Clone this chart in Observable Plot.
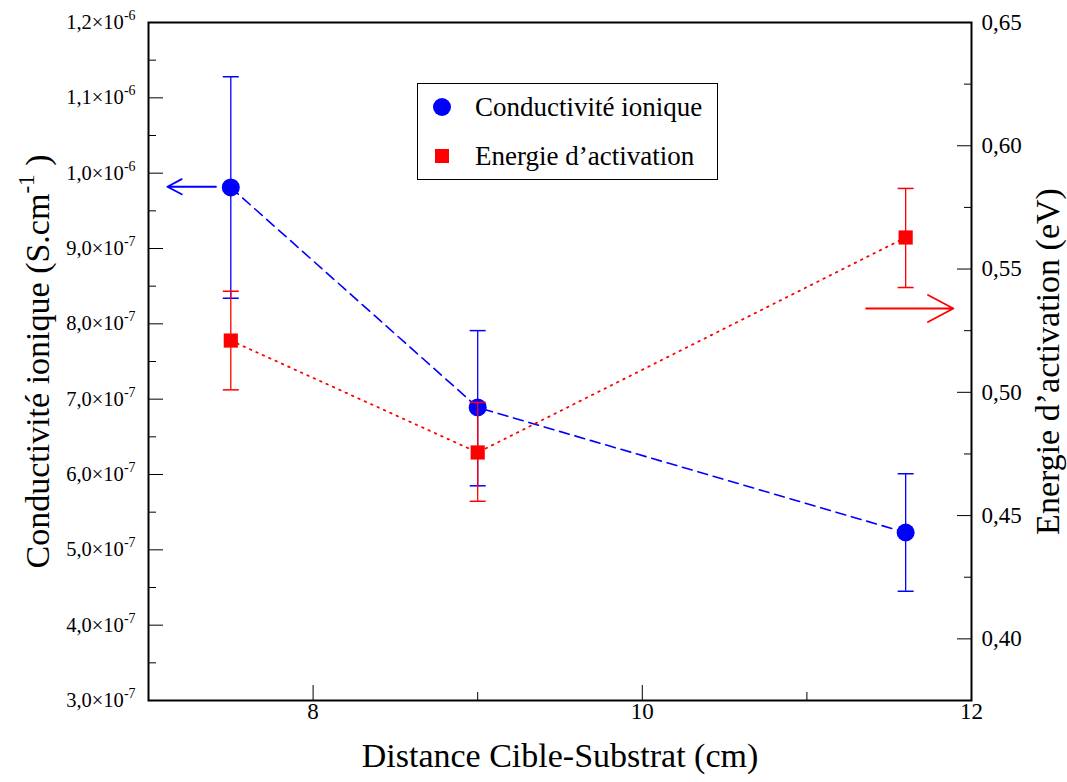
<!DOCTYPE html>
<html>
<head>
<meta charset="utf-8">
<script src="https://cdn.jsdelivr.net/npm/d3@7"></script>
<script src="https://cdn.jsdelivr.net/npm/@observablehq/plot@0.6"></script>
<style>
  body { margin: 0; background: #fff; }
  #wrap { position: relative; width: 1067px; height: 782px; font-family: "Liberation Serif", "DejaVu Serif", serif; }
  #legend { position: absolute; left: 417px; top: 83px; width: 301px; height: 97px; border: 1px solid #000; box-sizing: border-box; background: #fff; }
  .row { position: absolute; left: 0; height: 30px; display: flex; align-items: center; font-size: 27px; color: #000; white-space: nowrap; }
  .sym { width: 30px; margin-left: 9px; display: flex; justify-content: center; }
</style>
</head>
<body>
<div id="wrap"></div>
<script>
// ---- data ----
const distance = [7.5, 9, 11.6];
const condValues = [9.81e-7, 6.89e-7, 5.23e-7];
const condErrLow = [8.34e-7, 5.85e-7, 4.45e-7];
const condErrHigh = [1.128e-6, 7.91e-7, 6.01e-7];
const energyValues = [0.521, 0.4756, 0.5628];
const energyErrLow = [0.501, 0.4558, 0.5425];
const energyErrHigh = [0.541, 0.4959, 0.5827];

const xMajorTicks = [8, 10, 12];
const xTickLabels = ["8", "10", "12"];
const xMinorTicks = [9, 11];
const leftMajorTicks = [3e-7, 4e-7, 5e-7, 6e-7, 7e-7, 8e-7, 9e-7, 1.0e-6, 1.1e-6, 1.2e-6];
const leftTickLabels = ["3,0×10^-7", "4,0×10^-7", "5,0×10^-7", "6,0×10^-7", "7,0×10^-7", "8,0×10^-7", "9,0×10^-7", "1,0×10^-6", "1,1×10^-6", "1,2×10^-6"];
const leftMinorTicks = [3.5e-7, 4.5e-7, 5.5e-7, 6.5e-7, 7.5e-7, 8.5e-7, 9.5e-7, 1.05e-6, 1.15e-6];
const rightMajorTicks = [0.40, 0.45, 0.50, 0.55, 0.60, 0.65];
const rightTickLabels = ["0,40", "0,45", "0,50", "0,55", "0,60", "0,65"];
const rightMinorTicks = [0.425, 0.475, 0.525, 0.575, 0.625];

const xTitle = "Distance Cible-Substrat (cm)";
const leftTitle = "Conductivité ionique (S.cm^-1 )";
const rightTitle = "Energie d’activation (eV)";
const seriesNames = ["Conductivité ionique", "Energie d’activation"];

// arrows pointing to the axes (data coords)
const condArrow = {x1: 7.41, x2: 7.115, y: 9.82e-7};
const energyArrow = {x1: 11.36, x2: 11.89, y: 0.534};

// ---- scale mapping for right axis ----
const leftDomain = [3e-7, 1.2e-6];
const rightDomain = [0.375, 0.65];
const toLeft = v => leftDomain[0] + (v - rightDomain[0]) * (leftDomain[1] - leftDomain[0]) / (rightDomain[1] - rightDomain[0]);

const cond = distance.map((x, i) => ({x, y: condValues[i], lo: condErrLow[i], hi: condErrHigh[i]}));
const energy = distance.map((x, i) => ({x, y: toLeft(energyValues[i]), lo: toLeft(energyErrLow[i]), hi: toLeft(energyErrHigh[i])}));

const capSymbol = { draw(ctx) { ctx.moveTo(-8, 0); ctx.lineTo(8, 0); } };
const font = "'Liberation Serif', 'DejaVu Serif', serif";

const chart = Plot.plot({
  width: 1067,
  height: 782,
  marginLeft: 148,
  marginRight: 96,
  marginTop: 22,
  marginBottom: 82,
  style: {fontFamily: font, background: "white", color: "black"},
  x: {domain: [7, 12]},
  y: {domain: leftDomain},
  marks: [
    // tick marks (inward)
    Plot.axisX(xMajorTicks, {anchor: "bottom", tickSize: -15, tickFormat: () => "", label: null, stroke: "black"}),
    Plot.axisX(xMinorTicks, {anchor: "bottom", tickSize: -8, tickFormat: () => "", label: null, stroke: "black"}),
    Plot.axisY(leftMajorTicks, {anchor: "left", tickSize: -15, tickFormat: () => "", label: null, stroke: "black"}),
    Plot.axisY(leftMinorTicks, {anchor: "left", tickSize: -8, tickFormat: () => "", label: null, stroke: "black"}),
    Plot.axisY(rightMajorTicks.map(toLeft), {anchor: "right", tickSize: -15, tickFormat: () => "", label: null, stroke: "black"}),
    Plot.axisY(rightMinorTicks.map(toLeft), {anchor: "right", tickSize: -8, tickFormat: () => "", label: null, stroke: "black"}),
    // tick labels
    Plot.text(xMajorTicks, {x: d => d, text: (d, i) => xTickLabels[i], frameAnchor: "bottom", dy: 18, fontSize: 23, fill: "black", textAnchor: "middle"}),
    Plot.text(leftMajorTicks, {y: d => d, text: (d, i) => leftTickLabels[i], frameAnchor: "left", dx: -13, fontSize: 20.5, fill: "black", textAnchor: "end"}),
    Plot.text(rightMajorTicks, {y: d => toLeft(d), text: (d, i) => rightTickLabels[i], frameAnchor: "right", dx: 10, fontSize: 23, fill: "black", textAnchor: "start"}),
    Plot.frame({stroke: "black", strokeWidth: 2}),
    // axis titles
    Plot.text([xTitle], {frameAnchor: "bottom", dy: 66, fontSize: 34, fill: "black", textAnchor: "middle"}),
    Plot.text([leftTitle], {frameAnchor: "left", dx: -110, rotate: -90, fontSize: 34, fill: "black", textAnchor: "middle"}),
    Plot.text([rightTitle], {frameAnchor: "right", dx: 77, rotate: -90, fontSize: 34, fill: "black", textAnchor: "middle"}),
    // conductivity series
    Plot.ruleX(cond, {x: "x", y1: "lo", y2: "hi", stroke: "blue", strokeWidth: 1.3}),
    Plot.dot(cond, {x: "x", y: "lo", symbol: capSymbol, stroke: "blue", strokeWidth: 1.5, fill: "none"}),
    Plot.dot(cond, {x: "x", y: "hi", symbol: capSymbol, stroke: "blue", strokeWidth: 1.5, fill: "none"}),
    Plot.line(cond, {x: "x", y: "y", stroke: "blue", strokeWidth: 1.6, strokeDasharray: "10,6"}),
    Plot.dot(cond, {x: "x", y: "y", r: 9, fill: "blue", stroke: "none"}),
    Plot.arrow([condArrow], {x1: "x1", x2: "x2", y1: "y", y2: "y", stroke: "blue", strokeWidth: 1.8, headLength: 24, headAngle: 56}),
    // energy series
    Plot.ruleX(energy, {x: "x", y1: "lo", y2: "hi", stroke: "red", strokeWidth: 1.3}),
    Plot.dot(energy, {x: "x", y: "lo", symbol: capSymbol, stroke: "red", strokeWidth: 1.5, fill: "none"}),
    Plot.dot(energy, {x: "x", y: "hi", symbol: capSymbol, stroke: "red", strokeWidth: 1.5, fill: "none"}),
    Plot.line(energy, {x: "x", y: "y", stroke: "red", strokeWidth: 1.8, strokeDasharray: "1.5,5.5"}),
    Plot.dot(energy, {x: "x", y: "y", r: 8, symbol: "square", fill: "red", stroke: "none"}),
    Plot.arrow([energyArrow], {x1: "x1", x2: "x2", y1: d => toLeft(d.y), y2: d => toLeft(d.y), stroke: "red", strokeWidth: 1.8, headLength: 24, headAngle: 56})
  ]
});

const wrap = document.getElementById("wrap");
wrap.appendChild(chart);

// turn "^-n" markers into real superscript tspans
const ns = "http://www.w3.org/2000/svg";
chart.querySelectorAll("text").forEach(t => {
  const target = t.querySelector("tspan") || t;
  const s = target.textContent;
  const m = s.match(/^(.*)\^(-\d+)(.*)$/);
  if (!m) return;
  const fs = parseFloat(getComputedStyle(t).fontSize) || 20;
  target.textContent = "";
  const a = document.createElementNS(ns, "tspan"); a.textContent = m[1];
  const b = document.createElementNS(ns, "tspan"); b.textContent = m[2];
  b.setAttribute("font-size", fs * 0.68); b.setAttribute("dy", -fs * 0.45);
  target.appendChild(a); target.appendChild(b);
  if (m[3]) {
    const c = document.createElementNS(ns, "tspan"); c.textContent = m[3];
    c.setAttribute("dy", fs * 0.45);
    target.appendChild(c);
  }
});

const legend = document.createElement("div");
legend.id = "legend";
legend.innerHTML = `
  <div class="row" style="top:8px"><div class="sym"><svg width="18" height="18"><circle cx="9" cy="9" r="9" fill="blue"/></svg></div><span style="margin-left:18px">${seriesNames[0]}</span></div>
  <div class="row" style="top:57px"><div class="sym"><svg width="16" height="16"><rect x="1" y="1" width="14" height="14" fill="red"/></svg></div><span style="margin-left:18px">${seriesNames[1]}</span></div>
`;
wrap.appendChild(legend);
</script>
</body>
</html>
